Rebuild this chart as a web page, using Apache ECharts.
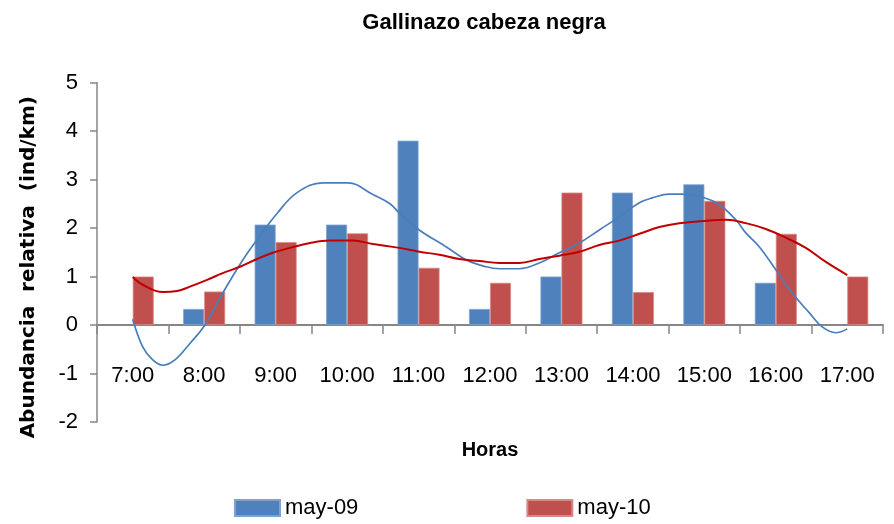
<!DOCTYPE html>
<html>
<head>
<meta charset="utf-8">
<script src="https://cdn.jsdelivr.net/npm/echarts@6/dist/echarts.min.js"></script>
<style>
html,body{margin:0;padding:0;background:#fff;}
#c{width:894px;height:524px;}
</style>
</head>
<body>
<div id="c"></div>
<script>
// Categories and bar values
const categories = ['7:00','8:00','9:00','10:00','11:00','12:00','13:00','14:00','15:00','16:00','17:00'];
const may09 = [null, 0.33, 2.07, 2.07, 3.8, 0.33, 1.0, 2.73, 2.9, 0.87, null];
const may10 = [1.0, 0.69, 1.71, 1.89, 1.18, 0.87, 2.73, 0.68, 2.56, 1.88, 1.0];

// Trend lines: [hour, value]
const trendHours09 = [7.0, 7.14, 7.28, 7.42, 7.59, 7.80, 8.01, 8.26, 8.54, 8.74, 9.02, 9.30, 9.66, 10.01, 10.36, 10.60, 10.73, 11.01, 11.39, 11.67, 11.95, 12.13, 12.41, 12.69, 12.97, 13.25, 13.53, 13.81, 14.09, 14.27, 14.51, 14.69, 14.97, 15.21, 15.44, 15.58, 15.77, 16.00, 16.23, 16.47, 16.65, 16.84, 17.0];
const trendValues09 = [0.12, -0.45, -0.72, -0.83, -0.72, -0.38, 0.0, 0.66, 1.34, 1.76, 2.3, 2.73, 2.93, 2.93, 2.69, 2.5, 2.31, 1.96, 1.61, 1.34, 1.2, 1.16, 1.16, 1.28, 1.49, 1.69, 1.96, 2.23, 2.52, 2.62, 2.7, 2.7, 2.64, 2.48, 2.17, 1.9, 1.61, 1.14, 0.66, 0.25, -0.04, -0.16, -0.08];
const trendHours10 = [7.0, 7.14, 7.42, 7.62, 7.80, 8.04, 8.26, 8.50, 8.74, 8.96, 9.20, 9.48, 9.76, 10.08, 10.36, 10.73, 11.01, 11.29, 11.57, 11.85, 12.13, 12.41, 12.69, 12.97, 13.25, 13.53, 13.81, 14.09, 14.37, 14.65, 15.03, 15.31, 15.58, 15.86, 16.14, 16.42, 16.70, 17.0];
const trendValues10 = [0.99, 0.83, 0.68, 0.70, 0.79, 0.93, 1.07, 1.2, 1.36, 1.49, 1.59, 1.69, 1.74, 1.74, 1.67, 1.59, 1.51, 1.45, 1.36, 1.32, 1.28, 1.28, 1.36, 1.43, 1.51, 1.65, 1.74, 1.88, 2.02, 2.1, 2.15, 2.17, 2.1, 1.98, 1.8, 1.59, 1.3, 1.03];

const yTicks = [-2, -1, 0, 1, 2, 3, 4, 5];

const FONT = "'Liberation Sans', Arial, sans-serif";
const BLUE = '#4F81BD', RED = '#C0504D';

const zip = (a, b) => a.map((x, i) => [x, b[i]]);

const chart = echarts.init(document.getElementById('c'), null, {renderer: 'canvas'});
chart.setOption({
  animation: false,
  backgroundColor: '#fff',
  title: {
    text: 'Gallinazo cabeza negra',
    left: 479, top: 7, textAlign: 'center',
    textStyle: {fontFamily: FONT, fontWeight: 'bold', fontSize: 22, color: '#000'}
  },
  legend: {
    data: ['may-09', 'may-10'],
    left: 229, top: 492,
    itemWidth: 45, itemHeight: 16, itemGap: 168,
    icon: 'rect',
    textStyle: {fontFamily: FONT, fontSize: 22, color: '#000'}
  },
  grid: {left: 97, right: 11, top: 82.5, bottom: 102, containLabel: false, outerBoundsMode: 'none'},
  xAxis: [{
    type: 'category',
    data: categories,
    boundaryGap: true,
    name: 'Horas',
    nameLocation: 'middle',
    nameGap: 18,
    nameTextStyle: {fontFamily: FONT, fontWeight: 'bold', fontSize: 20, color: '#000'},
    axisLine: {onZero: true, lineStyle: {color: '#868686', width: 2}},
    axisTick: {show: true, alignWithLabel: false, interval: 0, length: 9, lineStyle: {color: '#868686', width: 1.5}},
    axisLabel: {interval: 0, margin: -57, fontFamily: FONT, fontSize: 22, color: '#000'},
    splitLine: {show: false}
  }, {
    type: 'value', min: 6.5, max: 17.5, show: false
  }],
  yAxis: {
    type: 'value', min: yTicks[0], max: yTicks[yTicks.length - 1], interval: 1,
    name: 'Abundancia  relativa  (ind/km)',
    nameLocation: 'middle', nameRotate: 90, nameGap: 58,
    nameTextStyle: {fontFamily: "'DejaVu Sans', sans-serif", fontWeight: 'bold', fontSize: 20, color: '#000', padding: [0, 30, 0, 0]},
    axisLine: {show: true, lineStyle: {color: '#868686', width: 1.5}},
    axisTick: {show: true, length: 7, lineStyle: {color: '#868686', width: 1.5}},
    axisLabel: {margin: 19, fontFamily: FONT, fontSize: 22, color: '#000'},
    splitLine: {show: false}
  },
  series: [{
    name: 'may-09', type: 'bar', data: may09, barWidth: 21, barGap: '0%',
    itemStyle: {color: BLUE, borderColor: '#7FA3D0', borderWidth: 0.8}
  }, {
    name: 'may-10', type: 'bar', data: may10, barWidth: 21, barGap: '0%',
    itemStyle: {color: RED, borderColor: '#D98A88', borderWidth: 0.8}
  }, {
    name: 'trend-09', type: 'line', xAxisIndex: 1, data: zip(trendHours09, trendValues09),
    smooth: 0.4, showSymbol: false, lineStyle: {color: '#4A7EBB', width: 1.7}, z: 5
  }, {
    name: 'trend-10', type: 'line', xAxisIndex: 1, data: zip(trendHours10, trendValues10),
    smooth: 0.4, showSymbol: false, lineStyle: {color: '#C00000', width: 2}, z: 5
  }]
});
</script>
</body>
</html>
